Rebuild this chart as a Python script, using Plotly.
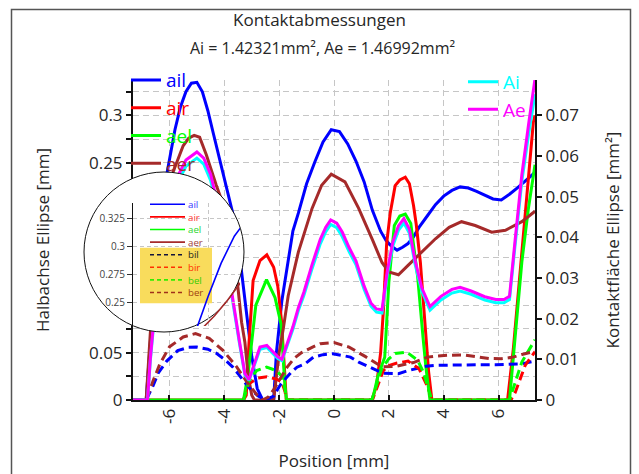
import plotly.graph_objects as go

# ---------------------------------------------------------------------------
# Semi-axes of the contact ellipses along the contact path (left axis, mm)
# ---------------------------------------------------------------------------
ail_x = [-7.33, -6.85, -6.6, -6.4, -6.2, -6.0, -5.8, -5.6, -5.4, -5.2, -5.0, -4.8, -4.6, -4.4,
         -4.2, -4.0, -3.8, -3.6, -3.4, -3.2, -3.0, -2.8, -2.6, -2.2, -2.1, -1.9, -1.7, -1.5,
         -1.3, -1.0, -0.7, -0.4, -0.1, 0.2, 0.5, 0.8, 1.1, 1.4, 1.7, 1.9, 2.1, 2.3, 2.5, 2.7,
         2.9, 3.1, 3.4, 3.7, 4.0, 4.3, 4.6, 4.9, 5.2, 5.5, 5.8, 6.1, 6.4, 6.7, 7.0, 7.33]
ail_y = [0, 0, 0.1, 0.175, 0.222, 0.255, 0.285, 0.309, 0.325, 0.334, 0.335, 0.325, 0.305, 0.281,
         0.258, 0.233, 0.211, 0.186, 0.142, 0.092, 0.046, 0.012, 0, 0, 0.05, 0.105, 0.142, 0.178,
         0.197, 0.228, 0.251, 0.272, 0.285, 0.283, 0.27, 0.252, 0.23, 0.2, 0.178, 0.168, 0.162,
         0.158, 0.161, 0.165, 0.172, 0.182, 0.194, 0.206, 0.215, 0.221, 0.2247, 0.2235, 0.22,
         0.216, 0.212, 0.211, 0.217, 0.224, 0.232, 0.24]

air_x = [-7.33, -3.3, -3.2, -3.1, -2.95, -2.7, -2.45, -2.2, -2.05, -1.92, -1.8, -1.74,
         1.38, 1.55, 1.7, 1.8, 1.92, 2.05, 2.23, 2.4, 2.6, 2.75, 2.9, 3.0, 3.15, 3.3, 3.45, 3.57,
         6.33, 6.54, 6.73, 6.91, 7.09, 7.27, 7.33]
air_y = [0, 0, 0.005, 0.06, 0.126, 0.147, 0.153, 0.14, 0.12, 0.085, 0.03, 0,
         0, 0.015, 0.05, 0.094, 0.165, 0.197, 0.226, 0.232, 0.235, 0.228, 0.205, 0.185, 0.145,
         0.09, 0.03, 0, 0, 0.054, 0.117, 0.177, 0.237, 0.293, 0.3]

ael_x = [-7.33, -3.3, -3.13, -2.85, -2.46, -2.15, -1.93, -1.79, -1.73,
         1.4, 1.6, 1.85, 2.0, 2.2, 2.4, 2.6, 2.8, 3.05, 3.25, 3.35, 3.5,
         6.4, 6.61, 6.85, 7.09, 7.33]
ael_y = [0, 0, 0.028, 0.1, 0.127, 0.108, 0.08, 0.015, 0,
         0, 0.025, 0.045, 0.124, 0.184, 0.194, 0.196, 0.186, 0.13, 0.065, 0.035, 0,
         0, 0.068, 0.1455, 0.202, 0.248]

aer_x = [-7.33, -6.85, -6.7, -6.5, -6.3, -6.1, -5.9, -5.7, -5.5, -5.3, -5.1, -4.9, -4.65, -4.3,
         -3.9, -3.6, -3.37, -3.25, -3.13, -3.0, -2.9, -2.2, -2.0, -1.85, -1.67, -1.3, -0.8,
         -0.45, -0.1, 0.4, 0.9, 1.4, 1.75, 2.0, 2.35, 2.7, 3.2, 3.7, 4.2, 4.65, 5.15, 5.75,
         6.25, 6.85, 7.33]
aer_y = [0, 0, 0.07, 0.15, 0.2, 0.226, 0.238, 0.252, 0.268, 0.276, 0.279, 0.277, 0.258, 0.227,
         0.195, 0.145, 0.082, 0.061, 0.026, 0.005, 0, 0, 0.05, 0.075, 0.11, 0.156, 0.202,
         0.2265, 0.238, 0.23, 0.202, 0.169, 0.145, 0.135, 0.132, 0.142, 0.156, 0.17, 0.182,
         0.188, 0.184, 0.177, 0.179, 0.188, 0.199]

bil_x = [-7.33, -6.85, -6.6, -6.4, -6.1, -5.7, -5.3, -5.0, -4.6, -4.3, -4.0, -3.7, -3.45, -3.3,
         -3.0, -2.75, -2.5, -2.2, -2.0, -1.85, -1.55, -1.35, -1.06, -0.75, -0.4, -0.05, 0.3,
         0.6, 0.9, 1.2, 1.5, 1.8, 2.1, 2.35, 2.7, 3.0, 3.35, 3.7, 4.2, 4.7, 5.2, 5.9, 6.4,
         6.85, 7.33]
bil_y = [0, 0, 0.015, 0.029, 0.041, 0.052, 0.0555, 0.0558, 0.0535, 0.0495, 0.043, 0.035, 0.026,
         0.02, 0.01, 0.004, 0.0, 0.004, 0.014, 0.02, 0.0294, 0.0346, 0.038, 0.0452, 0.0478,
         0.0488, 0.047, 0.0452, 0.04, 0.0364, 0.032, 0.0282, 0.0277, 0.0277, 0.031, 0.033,
         0.0355, 0.0365, 0.037, 0.0372, 0.0372, 0.0372, 0.0376, 0.0382, 0.041]

bir_x = [-3.3, -3.1, -2.8, -2.45, -2.1, -1.9, -1.78, -1.73,
         1.4, 1.5, 1.8, 2.0, 2.3, 2.7, 3.1, 3.45, 3.57, 6.45, 6.61, 6.97, 7.33]
bir_y = [0, 0.017, 0.023, 0.0245, 0.022, 0.019, 0.008, 0,
         0, 0.008, 0.031, 0.0364, 0.039, 0.041, 0.033, 0.0118, 0, 0, 0.008, 0.0364, 0.051]

bel_x = [-3.3, -3.1, -2.82, -2.46, -2.1, -1.9, -1.78, -1.73,
         1.38, 1.74, 2.0, 2.23, 2.65, 3.05, 3.25, 3.42, 3.57, 6.4, 6.49, 6.85, 7.33]
bel_y = [0, 0.02, 0.031, 0.0346, 0.031, 0.025, 0.01, 0,
         0, 0.033, 0.0435, 0.049, 0.0505, 0.042, 0.03, 0.015, 0, 0, 0.008, 0.04, 0.0635]

ber_x = [-7.33, -6.85, -6.6, -6.35, -6.0, -5.5, -5.05, -4.55, -4.05, -3.55, -3.2, -3.0, -2.8,
         -2.6, -2.4, -2.2, -2.0, -1.7, -1.45, -1.18, -0.8, -0.5, 0.0, 0.55, 1.15, 1.75, 2.25,
         2.9, 3.4, 3.7, 4.2, 4.7, 5.2, 5.65, 6.1, 6.5, 6.85, 7.33]
ber_y = [0, 0, 0.02, 0.038, 0.056, 0.0665, 0.07, 0.065, 0.0523, 0.035, 0.02, 0.012, 0.005,
         0.0, 0.003, 0.011, 0.021, 0.035, 0.044, 0.05, 0.0555, 0.0593, 0.0605, 0.0558, 0.0457,
         0.035, 0.0355, 0.0395, 0.0452, 0.0463, 0.0472, 0.0476, 0.0455, 0.0437, 0.0435,
         0.045, 0.048, 0.0515]

# ---------------------------------------------------------------------------
# Contact areas (right axis, mm²)
# ---------------------------------------------------------------------------
area_x = [-7.33, -6.8, -6.7, -6.5, -6.3, -6.0, -5.7, -5.4, -5.0, -4.75, -4.5, -4.2, -3.95, -3.7,
          -3.45, -3.25, -3.1, -2.95, -2.7, -2.45, -2.25, -2.05, -1.9, -1.7, -1.5, -1.3, -1.1,
          -0.8, -0.5, -0.3, -0.12, 0.1, 0.3, 0.55, 0.8, 1.1, 1.35, 1.55, 1.75, 1.95, 2.15,
          2.35, 2.55, 2.75, 2.95, 3.2, 3.5, 3.9, 4.3, 4.6, 5.0, 5.5, 5.9, 6.2, 6.4, 6.6, 6.85,
          7.1, 7.33]
Ae_y = [0, 0, 0.01, 0.025, 0.037, 0.048, 0.055, 0.059, 0.061, 0.0595, 0.0555, 0.047, 0.036,
        0.025, 0.0145, 0.0065, 0.005, 0.008, 0.013, 0.0134, 0.012, 0.0106, 0.01, 0.014, 0.018,
        0.0227, 0.0265, 0.0333, 0.0395, 0.0425, 0.0443, 0.0435, 0.0413, 0.0375, 0.0342, 0.028,
        0.0238, 0.0224, 0.0222, 0.032, 0.039, 0.0428, 0.0446, 0.042, 0.0345, 0.0276, 0.023,
        0.0255, 0.0272, 0.0277, 0.0268, 0.0254, 0.0247, 0.0247, 0.0255, 0.039, 0.0554, 0.068,
        0.079]
Ai_y = [0, 0, 0.0095, 0.024, 0.036, 0.0465, 0.0535, 0.0575, 0.0595, 0.058, 0.054, 0.0458,
        0.035, 0.024, 0.014, 0.0062, 0.0048, 0.0077, 0.0125, 0.0129, 0.0116, 0.0102, 0.0097,
        0.0135, 0.0174, 0.022, 0.0257, 0.0323, 0.0384, 0.0414, 0.0432, 0.0424, 0.0402, 0.0365,
        0.0333, 0.0272, 0.0231, 0.0216, 0.0214, 0.0311, 0.038, 0.0417, 0.0435, 0.041, 0.0336,
        0.0268, 0.0221, 0.0246, 0.0263, 0.0268, 0.026, 0.0246, 0.0239, 0.0239, 0.0247, 0.0378,
        0.0538, 0.0655, 0.0752]

# Axis ticks (left-axis labels under the magnifier lens are covered, so only the
# visible ones carry text; the remaining 0.025 steps come from the minor ticks)
x_tickvals = [-6, -4, -2, 0, 2, 4, 6]
x_ticktext = ["-6", "-4", "-2", "0", "2", "4", "6"]
left_tickvals = [0, 0.05, 0.25, 0.3]
left_ticktext = ["0", "0.05", "0.25", "0.3"]
inset_tickvals = [0.25, 0.275, 0.3, 0.325]
inset_ticktext = ["0.25", "0.275", "0.3", "0.325"]

# Series names and colours
semi_names = ["ail", "air", "ael", "aer"]
semi_minor_names = ["bil", "bir", "bel", "ber"]
area_names = ["Ai", "Ae"]
series_colors = {"ail": "#0000ff", "air": "#ff0000", "ael": "#00ff00", "aer": "#a52a2a",
                 "bil": "#0000ff", "bir": "#ff0000", "bel": "#00ff00", "ber": "#a52a2a",
                 "Ai": "#00ffff", "Ae": "#ff00ff"}

# ---------------------------------------------------------------------------
# Page geometry (pixels) and helpers to convert into paper coordinates
# ---------------------------------------------------------------------------
FIG_W, FIG_H = 639, 474
M_L, M_R, M_T, M_B = 70, 104, 80, 74
PAPER_W = FIG_W - M_L - M_R
PAPER_H = FIG_H - M_T - M_B
AXIS_LEFT_PX = 133

FONT = "Open Sans"
TXT = "#262626"
GRID = "#c6c6c6"
GRID_DASH = "6px,4px"
SERIES_DASH = "9px,5px"


def px_x(p):
    return (p - M_L) / PAPER_W


def px_y(p):
    return (FIG_H - M_B - p) / PAPER_H


# Magnifier lens and the zoomed axes inside it
LENS_CX, LENS_CY, LENS_R = 164, 252, 80
INSET_L, INSET_R, INSET_T, INSET_B = 133, 240, 203, 326
INSET_X_REF, INSET_X_REF_PX, INSET_X_SCALE = -6.0, 208.0, 65.8
INSET_Y_REF, INSET_Y_REF_PX, INSET_Y_SCALE = 0.25, 302.3, 1120.0


def inset_x(p):
    return INSET_X_REF + (p - INSET_X_REF_PX) / INSET_X_SCALE


def inset_y(p):
    return INSET_Y_REF + (INSET_Y_REF_PX - p) / INSET_Y_SCALE


fig = go.Figure()

semi_data = {"ail": (ail_x, ail_y), "air": (air_x, air_y), "ael": (ael_x, ael_y),
             "aer": (aer_x, aer_y)}
minor_data = {"bil": (bil_x, bil_y), "bir": (bir_x, bir_y), "bel": (bel_x, bel_y),
              "ber": (ber_x, ber_y)}
area_data = {"Ai": Ai_y, "Ae": Ae_y}

for n in semi_names:
    xs, ys = semi_data[n]
    c = series_colors[n]
    fig.add_trace(go.Scatter(
        x=xs, y=ys, mode="lines", name=f"<span style='color:{c}'>{n}</span>",
        line=dict(color=c, width=3), legend="legend"))

for n in semi_minor_names:
    xs, ys = minor_data[n]
    fig.add_trace(go.Scatter(
        x=xs, y=ys, mode="lines", name=n, showlegend=False,
        line=dict(color=series_colors[n], width=3, dash=SERIES_DASH)))

for n in area_names:
    c = series_colors[n]
    fig.add_trace(go.Scatter(
        x=area_x, y=area_data[n], mode="lines", yaxis="y2", legend="legend2",
        name=f"<span style='color:{c}'>{n}</span>", line=dict(color=c, width=3)))

# Zoomed view inside the lens: the curves that pass through it
for n in ["ail", "aer"]:
    xs, ys = semi_data[n]
    fig.add_trace(go.Scatter(
        x=xs, y=ys, mode="lines", xaxis="x4", yaxis="y4", showlegend=False,
        line=dict(color=series_colors[n], width=1.6)))

axis_font = dict(family=FONT, size=17, color=TXT)
title_font = dict(family=FONT, size=17, color=TXT)
subtitle_font = dict(family=FONT, size=16, color=TXT)

fig.update_layout(
    width=FIG_W, height=FIG_H, template="none",
    margin=dict(l=M_L, r=M_R, t=M_T, b=M_B, pad=0),
    paper_bgcolor="white", plot_bgcolor="rgba(0,0,0,0)",
    font=dict(family=FONT, color=TXT),
    title=dict(text="Kontaktabmessungen", x=0.5, xref="container", xanchor="center",
               y=1 - 20 / FIG_H, yref="container", yanchor="middle", font=title_font),
    xaxis=dict(domain=[px_x(AXIS_LEFT_PX), 1], range=[-7.33, 7.33],
               tickmode="array", tickvals=x_tickvals, ticktext=x_ticktext, tickangle=-90,
               ticks="inside", ticklen=5, tickwidth=1.5, tickcolor="#111",
               showline=True, linecolor="#111", linewidth=2, zeroline=False,
               showgrid=True, gridcolor=GRID, griddash=GRID_DASH, gridwidth=1.3,
               tickfont=axis_font,
               title=dict(text="Position [mm]", font=axis_font, standoff=32)),
    yaxis=dict(range=[0, 0.3374], tickmode="array", tickvals=left_tickvals,
               ticktext=left_ticktext, anchor="x",
               ticks="outside", ticklen=5, tickwidth=1.5, tickcolor="#111",
               showline=True, linecolor="#111", linewidth=2, zeroline=False,
               showgrid=True, gridcolor=GRID, griddash=GRID_DASH, gridwidth=1.3,
               minor=dict(tickmode="linear", dtick=0.025, tick0=0, ticks="outside",
                          ticklen=5, tickwidth=1.5, tickcolor="#111", showgrid=True,
                          gridcolor=GRID, griddash=GRID_DASH, gridwidth=1.3),
               tickfont=axis_font,
               title=dict(text="Halbachse Ellipse [mm]", font=axis_font, standoff=35)),
    yaxis2=dict(range=[0, 0.0787], dtick=0.01, tick0=0, overlaying="y", side="right",
                anchor="x", ticks="outside", ticklen=5, tickwidth=1.5, tickcolor="#111",
                showline=True, linecolor="#111", linewidth=2, zeroline=False,
                showgrid=False, tickfont=axis_font,
                title=dict(text="Kontaktfläche Ellipse [mm²]", font=axis_font, standoff=29)),
    # lens background
    xaxis3=dict(domain=[px_x(LENS_CX - LENS_R - 2), px_x(LENS_CX + LENS_R + 2)],
                range=[LENS_CX - LENS_R - 2, LENS_CX + LENS_R + 2], anchor="y3",
                visible=False, fixedrange=True),
    yaxis3=dict(domain=[px_y(LENS_CY + LENS_R + 2), px_y(LENS_CY - LENS_R - 2)],
                range=[LENS_CY + LENS_R + 2, LENS_CY - LENS_R - 2], anchor="x3",
                visible=False, fixedrange=True),
    # zoomed axes inside the lens
    xaxis4=dict(domain=[px_x(INSET_L), px_x(INSET_R)],
                range=[inset_x(INSET_L), inset_x(INSET_R)], anchor="y4",
                tickmode="array", tickvals=[-6], showticklabels=False, ticks="",
                showline=False, zeroline=False, showgrid=True, gridcolor=GRID,
                griddash="4px,3px", gridwidth=1),
    yaxis4=dict(domain=[px_y(INSET_B), px_y(INSET_T)],
                range=[inset_y(INSET_B), inset_y(INSET_T)], anchor="x4",
                tickmode="array", tickvals=inset_tickvals, ticktext=inset_ticktext,
                ticks="outside", ticklen=5, tickwidth=1, tickcolor="#333",
                showline=True, linecolor="#111", linewidth=1, zeroline=False,
                showgrid=True, gridcolor=GRID, griddash="4px,3px", gridwidth=1,
                tickfont=dict(family=FONT, size=10, color="#444")),
    legend=dict(x=px_x(126), y=px_y(61.2), xanchor="left", yanchor="top",
                bgcolor="rgba(0,0,0,0)", borderwidth=0, font=dict(family=FONT, size=19),
                itemwidth=30, tracegroupgap=0),
    legend2=dict(x=px_x(463), y=px_y(62.8), xanchor="left", yanchor="top",
                 bgcolor="rgba(0,0,0,0)", borderwidth=0, font=dict(family=FONT, size=19),
                 itemwidth=30, tracegroupgap=0),
    showlegend=True,
)

shapes = []
# white lens disc covering the main chart
shapes.append(dict(type="circle", xref="x3", yref="y3", layer="below",
                   x0=LENS_CX - LENS_R, x1=LENS_CX + LENS_R,
                   y0=LENS_CY - LENS_R, y1=LENS_CY + LENS_R,
                   fillcolor="white", line=dict(color="#111", width=1)))
# highlight behind the b-entries of the lens legend
shapes.append(dict(type="rect", xref="x4", yref="y4", layer="between",
                   x0=inset_x(140), x1=inset_x(212), y0=inset_y(303.3), y1=inset_y(247.7),
                   fillcolor="#f9dc5c", line=dict(width=0)))

# legend inside the lens: sample lines plus one multi-line coloured label block
inset_rows = semi_names + semi_minor_names
inset_line_colors = ["#0000ff", "#ff0000", "#00ff00", "#a52a2a",
                     "#12123c", "#ff3000", "#33ee00", "#a0301a"]
inset_text_colors = ["#3636ff", "#ff3a3a", "#2ed62e", "#a0403a",
                     "#1e1e1e", "#ff3000", "#36cc00", "#a04010"]
ROW0, ROW_STEP = 204.3, 12.6
LEGEND_FONT_SIZE = ROW_STEP / 1.3
for i, n in enumerate(inset_rows):
    ypx = ROW0 + i * ROW_STEP
    shapes.append(dict(type="line", xref="paper", yref="paper", layer="above",
                       x0=px_x(150), x1=px_x(185), y0=px_y(ypx), y1=px_y(ypx),
                       line=dict(color=inset_line_colors[i], width=1.6,
                                 dash="solid" if i < 4 else "4px,3px")))

label_block = "<br>".join(f"<span style='color:{c}'>{n}</span>"
                          for n, c in zip(inset_rows, inset_text_colors))
rows_mid = ROW0 + ROW_STEP * (len(inset_rows) - 1) / 2
annotations = [dict(text=label_block, xref="paper", yref="paper", x=px_x(187),
                    y=px_y(rows_mid), xanchor="left", yanchor="middle", align="left",
                    showarrow=False, borderpad=0,
                    font=dict(family=FONT, size=LEGEND_FONT_SIZE))]

# outer frame of the chart panel
shapes.append(dict(type="rect", xref="paper", yref="paper", layer="above",
                   x0=px_x(11.5), x1=px_x(630.5), y0=px_y(9.5), y1=px_y(490),
                   line=dict(color="#555", width=1.5), fillcolor="rgba(0,0,0,0)"))

annotations.append(dict(text="Ai = 1.42321mm², Ae = 1.46992mm²", xref="paper", yref="paper",
                        x=px_x(322), y=px_y(48), xanchor="center", yanchor="middle",
                        showarrow=False, font=subtitle_font))

fig.update_layout(shapes=shapes, annotations=annotations)
fig.write_html("out.html")
